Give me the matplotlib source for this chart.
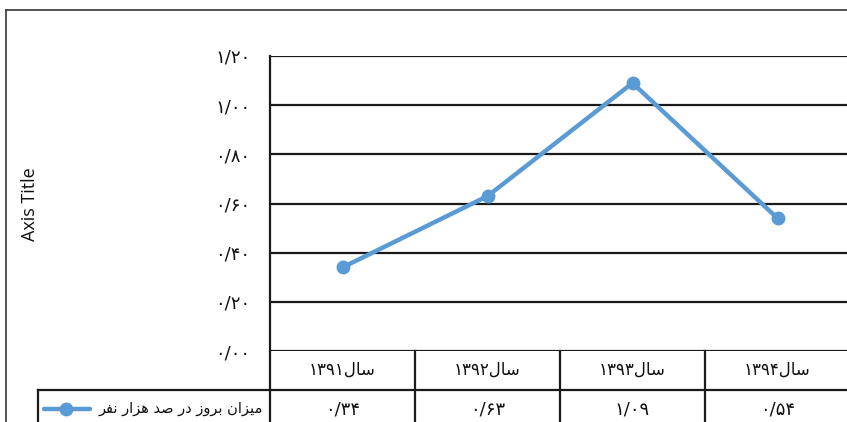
import matplotlib
matplotlib.use("Agg")
import matplotlib.pyplot as plt
import matplotlib.transforms as mtransforms
from matplotlib.lines import Line2D
import numpy as np

# ---------------- data ----------------
categories = ["سال۱۳۹۱", "سال۱۳۹۲", "سال۱۳۹۳", "سال۱۳۹۴"]
values = [0.34, 0.63, 1.09, 0.54]
series_name = "میزان بروز در صد هزار نفر"
y_ticks = [0.0, 0.2, 0.4, 0.6, 0.8, 1.0, 1.2]
axis_title = "Axis Title"

# ---------------- minimal Persian shaping ----------------
FORMS = {  # isolated, final, initial, medial
    'س': ('\uFEB1', '\uFEB2', '\uFEB3', '\uFEB4'),
    'ا': ('\uFE8D', '\uFE8E', None, None),
    'ل': ('\uFEDD', '\uFEDE', '\uFEDF', '\uFEE0'),
    'م': ('\uFEE1', '\uFEE2', '\uFEE3', '\uFEE4'),
    'ی': ('\uFBFC', '\uFBFD', '\uFEF3', '\uFEF4'),
    'ز': ('\uFEAF', '\uFEB0', None, None),
    'ن': ('\uFEE5', '\uFEE6', '\uFEE7', '\uFEE8'),
    'ب': ('\uFE8F', '\uFE90', '\uFE91', '\uFE92'),
    'ر': ('\uFEAD', '\uFEAE', None, None),
    'و': ('\uFEED', '\uFEEE', None, None),
    'د': ('\uFEA9', '\uFEAA', None, None),
    'ص': ('\uFEB9', '\uFEBA', '\uFEBB', '\uFEBC'),
    'ه': ('\uFEE9', '\uFEEA', '\uFEEB', '\uFEEC'),
    'ف': ('\uFED1', '\uFED2', '\uFED3', '\uFED4'),
}
LTR_CHARS = set("۰۱۲۳۴۵۶۷۸۹0123456789/.")


def shape(text):
    out = []
    for i, c in enumerate(text):
        if c not in FORMS:
            out.append(c)
            continue
        prev = text[i - 1] if i > 0 else None
        nxt = text[i + 1] if i + 1 < len(text) else None
        jp = prev in FORMS and FORMS[prev][2] is not None
        jn = nxt in FORMS and FORMS[c][2] is not None
        iso, fin, ini, med = FORMS[c]
        if jp and jn:
            out.append(med)
        elif jp:
            out.append(fin)
        elif jn:
            out.append(ini)
        else:
            out.append(iso)
    return "".join(out)


def visual(text):
    shaped = shape(text)
    runs = []
    for ch in shaped:
        is_ltr = ch in LTR_CHARS
        if runs and runs[-1][0] == is_ltr:
            runs[-1][1].append(ch)
        else:
            runs.append((is_ltr, [ch]))
    parts = []
    for is_ltr, chs in reversed(runs):
        parts.append("".join(chs) if is_ltr else "".join(reversed(chs)))
    return "".join(parts)


def fa_num(v, nd=2):
    s = f"{v:.{nd}f}".replace(".", "/")
    return s.translate(str.maketrans("0123456789", "۰۱۲۳۴۵۶۷۸۹"))


FA_FONT = ["DejaVu Sans"]
TXT = "#111111"

# ---------------- figure ----------------
W, H = 847, 422
fig = plt.figure(figsize=(W / 100, H / 100), dpi=100)


def fx(x):
    return x / W


def fy(y):
    return 1 - y / H


ax_left, ax_right, ax_top, ax_bot = 270, 850, 56, 351
ax = fig.add_axes([fx(ax_left), fy(ax_bot), fx(ax_right - ax_left), (ax_bot - ax_top) / H])

line_color = "#5B9BD5"
x = np.arange(len(categories))
ax.plot(x, values, color=line_color, lw=3.2, marker="o", ms=9,
        markerfacecolor=line_color, markeredgecolor=line_color, solid_capstyle="round", zorder=3)

ax.set_xlim(-0.5, len(categories) - 0.5)
ax.set_ylim(0, 1.2)
ax.set_yticks(y_ticks)
ax.set_yticklabels([fa_num(t) for t in y_ticks], fontfamily=FA_FONT, fontsize=13, color=TXT)
ax.tick_params(axis="y", length=0, pad=14)
ax.set_xticks([])
ax.yaxis.grid(True, color="#1a1a1a", lw=1.6)
ax.set_axisbelow(True)
for s in ["top", "right", "bottom"]:
    ax.spines[s].set_visible(False)
ax.spines["left"].set_color("#1a1a1a")
ax.spines["left"].set_linewidth(1.6)

# axis title
fig.text(fx(30), fy(204), axis_title, rotation=90, ha="center", va="center",
         fontsize=13, family="Open Sans", color=TXT)

# ---------------- data table ----------------
trans = mtransforms.blended_transform_factory(ax.transData, ax.transAxes)
ph = ax_bot - ax_top


def ay(ypix):
    return -(ypix - ax_bot) / ph


lc = "#1a1a1a"
lw = 1.6
for i in range(1, len(categories)):
    ax.add_line(Line2D([i - 0.5, i - 0.5], [0, ay(430)], transform=trans, color=lc, lw=lw, clip_on=False))
ax.add_line(Line2D([-0.5, -0.5], [0, ay(430)], transform=trans, color=lc, lw=lw, clip_on=False))
fig.add_artist(Line2D([fx(38), fx(860)], [fy(390), fy(390)], color=lc, lw=lw))
fig.add_artist(Line2D([fx(38), fx(38)], [fy(390), fy(430)], color=lc, lw=lw))

for i, (c, v) in enumerate(zip(categories, values)):
    ax.text(i, ay(370), visual(c), transform=trans, ha="center", va="center",
            fontsize=12, family=FA_FONT, color=TXT, clip_on=False)
    ax.text(i, ay(409), fa_num(v), transform=trans, ha="center", va="center",
            fontsize=13, family=FA_FONT, color=TXT, clip_on=False)

# legend key in table
fig.add_artist(Line2D([fx(44), fx(90)], [fy(409), fy(409)], color=line_color, lw=3.2,
                      solid_capstyle="round"))
fig.add_artist(Line2D([fx(66)], [fy(409)], color=line_color, marker="o", ms=9, lw=0))
fig.text(fx(263), fy(409), visual(series_name), ha="right", va="center",
         fontsize=10.5, family=FA_FONT, color=TXT)

# outer chart border
fig.add_artist(Line2D([fx(6), fx(6)], [fy(10), fy(440)], color="#444444", lw=1.3))
fig.add_artist(Line2D([fx(6), fx(860)], [fy(10), fy(10)], color="#444444", lw=1.3))

fig.savefig("out.png", dpi=100)
